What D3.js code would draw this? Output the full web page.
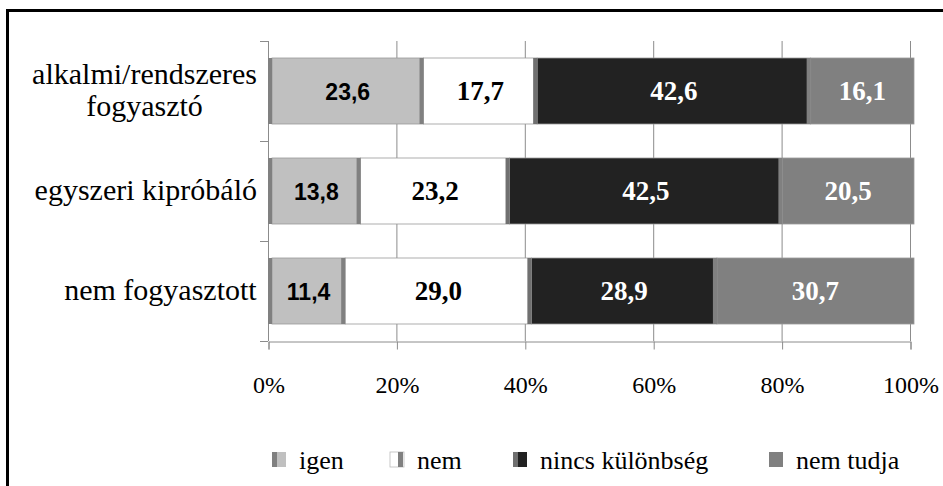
<!DOCTYPE html>
<html>
<head>
<meta charset="utf-8">
<script src="https://cdn.jsdelivr.net/npm/d3@7"></script>
<style>
  body { margin: 0; background: #fff; }
</style>
</head>
<body>
<div id="display"></div>
<script>
// the data
var categories = ["alkalmi/rendszeres fogyasztó", "egyszeri kipróbáló", "nem fogyasztott"];
var series = ["igen", "nem", "nincs különbség", "nem tudja"];
var igen = [23.6, 13.8, 11.4];
var nem = [17.7, 23.2, 29.0];
var nincsKulonbseg = [42.6, 42.5, 28.9];
var nemTudja = [16.1, 20.5, 30.7];
var xTicks = [0, 20, 40, 60, 80, 100];

var values = [igen, nem, nincsKulonbseg, nemTudja];
var front = ["#c0c0c0", "#ffffff", "#222222", "#808080"];
var side = ["#808080", "#808080", "#707070", "#808080"];
var labelFill = ["#000", "#000", "#fff", "#fff"];

var width = 943, height = 486;
var plotLeft = 268, plotRight = 910, plotTop = 41, plotBottom = 341;
var depth = 4; // the 3d side face of each segment
var serif = "Liberation Serif";
var sans = "Liberation Sans";

var svg = d3.select("#display").append("svg")
    .attr("width", width)
    .attr("height", height);

// chart frame, runs off the right and bottom of the picture
svg.append("rect")
    .attr("x", 7.5).attr("y", 10.5)
    .attr("width", 1000).attr("height", 1000)
    .attr("fill", "none").attr("stroke", "#000").attr("stroke-width", 3);

var x = d3.scaleLinear().domain([0, 100]).range([plotLeft, plotRight]);
var y = d3.scaleBand().domain(categories).range([plotTop, plotBottom])
    .paddingInner(0.34).paddingOuter(0.17);

// grid lines
svg.append("g").selectAll("line")
    .data(xTicks.slice(1))
    .enter().append("line")
    .attr("x1", function (d) { return x(d) + 0.5; })
    .attr("x2", function (d) { return x(d) + 0.5; })
    .attr("y1", plotTop).attr("y2", plotBottom)
    .attr("stroke", "#8c8c8c").attr("stroke-width", 1);

// bottom axis
var xAxis = d3.axisBottom(x).tickValues(xTicks)
    .tickSize(8).tickFormat(function (d) { return d + "%"; });
var gx = svg.append("g").attr("transform", "translate(0.5," + (plotBottom + 0.5) + ")").call(xAxis);
gx.attr("font-family", serif).attr("font-size", 24);
gx.select(".domain").attr("stroke", "#8c8c8c");
gx.selectAll(".tick line").attr("stroke", "#8c8c8c");
gx.selectAll(".tick text")
    .attr("y", 51).attr("dy", 0)
    .attr("font-family", serif).attr("font-size", 24).attr("fill", "#000");

// left axis with ticks between the categories
svg.append("line")
    .attr("x1", plotLeft + 0.5).attr("x2", plotLeft + 0.5)
    .attr("y1", plotTop).attr("y2", plotBottom)
    .attr("stroke", "#8c8c8c");
var step = y.step();
svg.append("g").selectAll("line")
    .data(d3.range(categories.length + 1))
    .enter().append("line")
    .attr("x1", plotLeft - 8).attr("x2", plotLeft)
    .attr("y1", function (i) { return plotTop + i * step + 0.5; })
    .attr("y2", function (i) { return plotTop + i * step + 0.5; })
    .attr("stroke", "#8c8c8c");

// category labels, the long one wraps into two centred lines
var labelLines = [["alkalmi/rendszeres", "fogyasztó"], ["egyszeri kipróbáló"], ["nem fogyasztott"]];
categories.forEach(function (c, i) {
    var cy = y(c) + y.bandwidth() / 2;
    var lines = labelLines[i];
    var t = svg.append("text")
        .attr("font-family", serif).attr("font-size", 30)
        .attr("fill", "#000");
    lines.forEach(function (s, j) {
        t.append("tspan").attr("x", 0)
            .attr("y", cy + 9 + (j - (lines.length - 1) / 2) * 32)
            .text(s);
    });
    var w = t.node().getBBox().width;
    t.attr("text-anchor", "middle");
    t.selectAll("tspan").attr("x", 257 - w / 2);
});

// stacked segments
var stacked = categories.map(function (c, i) {
    var acc = 0;
    return values.map(function (arr, k) {
        var seg = { cat: c, k: k, x0: acc, x1: acc + arr[i], v: arr[i] };
        acc += arr[i];
        return seg;
    });
});

var seg = svg.append("g").selectAll("g")
    .data(d3.merge(stacked))
    .enter().append("g");

seg.append("rect")
    .attr("x", function (d) { return x(d.x0) + depth; })
    .attr("width", function (d) { return x(d.x1) - x(d.x0); })
    .attr("y", function (d) { return y(d.cat); })
    .attr("height", y.bandwidth())
    .attr("fill", function (d) { return front[d.k]; })
    .attr("stroke", "#9a9a9a").attr("stroke-width", 0.8);

seg.append("rect")
    .attr("x", function (d) { return x(d.x0); })
    .attr("width", depth)
    .attr("y", function (d) { return y(d.cat); })
    .attr("height", y.bandwidth())
    .attr("fill", function (d) { return side[d.k]; });

seg.append("text")
    .attr("x", function (d) { return (x(d.x0) + x(d.x1)) / 2 + depth; })
    .attr("y", function (d) { return y(d.cat) + y.bandwidth() / 2; })
    .attr("dy", 9)
    .attr("text-anchor", "middle")
    .attr("font-weight", "bold")
    .attr("font-family", function (d) { return d.k == 0 ? sans : serif; })
    .attr("font-size", function (d) { return d.k == 0 ? 23 : 27; })
    .attr("fill", function (d) { return labelFill[d.k]; })
    .text(function (d) { return d.v.toFixed(1).replace(".", ","); });

// legend
var legendX = [299, 417, 540, 796];
var legend = svg.append("g").selectAll("g")
    .data(series)
    .enter().append("g")
    .attr("transform", function (d, k) { return "translate(" + legendX[k] + ",469)"; });

legend.append("rect")
    .attr("x", -27).attr("y", -17).attr("width", 14).attr("height", 15)
    .attr("fill", function (d, k) { return front[k]; })
    .attr("stroke", function (d, k) { return k == 1 ? "#bbb" : "none"; })
    .attr("stroke-width", 0.8);
legend.append("rect")
    .attr("x", function (d, k) { return k == 1 ? -19 : -27; })
    .attr("y", -17).attr("width", 5).attr("height", 15)
    .attr("fill", function (d, k) { return side[k]; });

legend.append("text")
    .attr("font-family", serif).attr("font-size", 26)
    .attr("fill", "#000")
    .text(function (d) { return d; });
</script>
</body>
</html>
